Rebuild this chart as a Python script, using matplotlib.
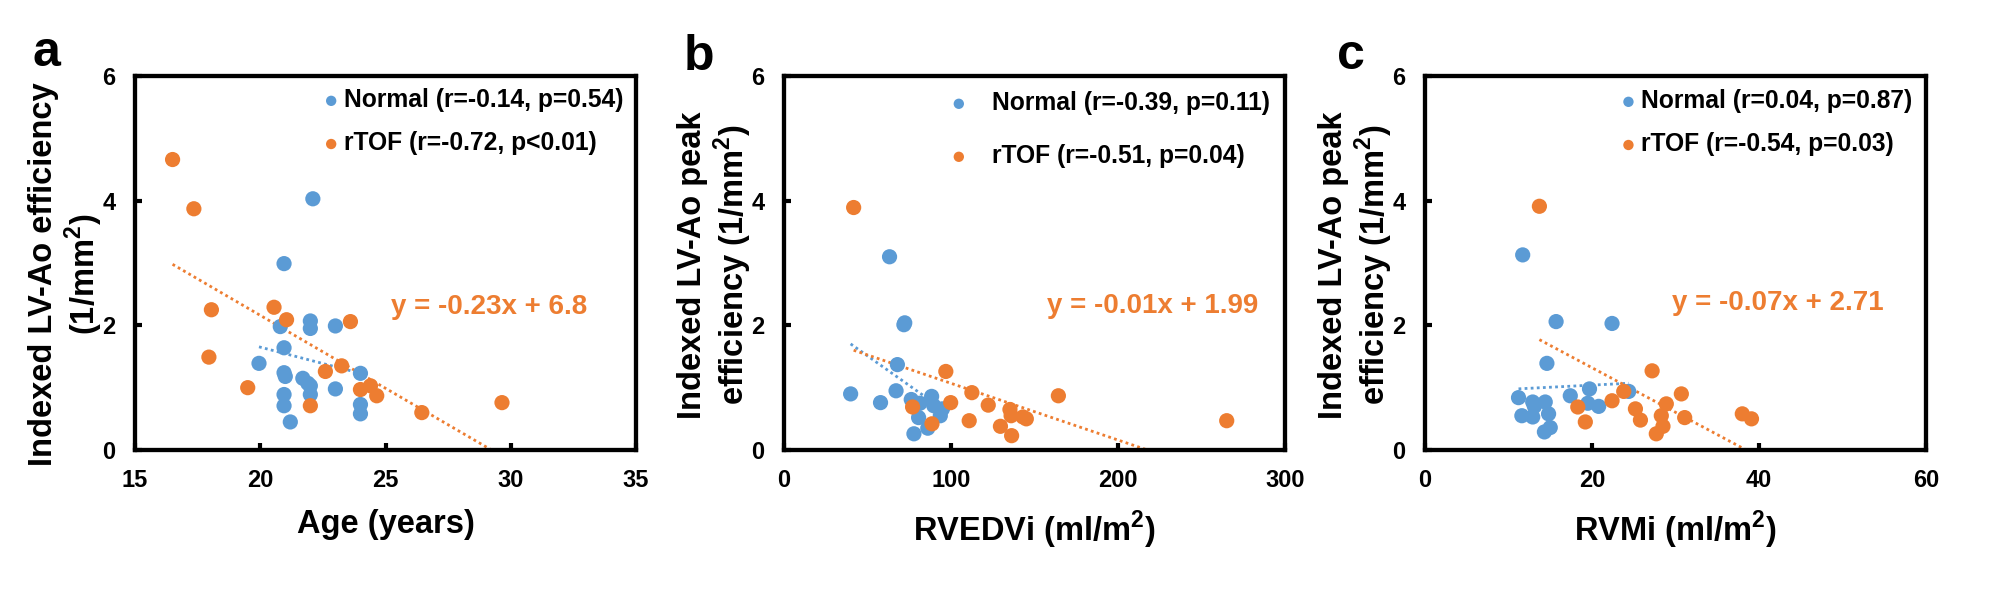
import numpy as np
import matplotlib
matplotlib.use('Agg')
import matplotlib.pyplot as plt

plt.rcParams['font.family'] = ['Liberation Sans', 'DejaVu Sans']
plt.rcParams['font.weight'] = 'bold'
plt.rcParams['mathtext.fontset'] = 'custom'
plt.rcParams['mathtext.rm'] = 'Liberation Sans:bold'
plt.rcParams['mathtext.bf'] = 'Liberation Sans:bold'

BLUE = '#5B9BD5'
ORANGE = '#ED7D31'

# Panel a: age vs indexed LV-Ao efficiency
age_normal = [22.1, 20.95, 20.8, 22.0, 22.0, 23.0, 20.95, 19.95, 20.95, 21.0, 21.7,
              21.9, 22.0, 23.0, 24.0, 20.95, 22.0, 20.95, 24.0, 24.0, 21.2]
eff_a_normal = [4.03, 2.99, 1.98, 2.07, 1.95, 1.99, 1.64, 1.39, 1.24, 1.18, 1.15,
                1.07, 1.03, 0.98, 1.23, 0.89, 0.89, 0.71, 0.73, 0.58, 0.45]
age_rtof = [16.5, 17.35, 18.05, 17.95, 19.5, 20.55, 21.05, 22.0, 22.6, 23.25, 23.6,
            24.0, 24.4, 24.65, 26.45, 29.65]
eff_a_rtof = [4.66, 3.87, 2.25, 1.49, 1.0, 2.29, 2.09, 0.71, 1.26, 1.35, 2.06,
              0.97, 1.03, 0.87, 0.60, 0.76]

# Panel b: RVEDVi vs indexed LV-Ao peak efficiency
rvedvi_normal = [63.2, 71.8, 72.3, 67.9, 39.9, 67.1, 57.8, 76.2, 81.4, 88.4, 89.7,
                 94.9, 93.6, 80.6, 86.1, 77.8]
eff_b_normal = [3.10, 2.01, 2.04, 1.37, 0.90, 0.95, 0.76, 0.81, 0.75, 0.86, 0.71,
                0.66, 0.55, 0.52, 0.35, 0.26]
rvedvi_rtof = [41.7, 96.9, 112.5, 164.3, 99.8, 122.3, 77.0, 135.3, 136.0, 143.1,
               145.1, 110.9, 88.6, 129.6, 136.3, 265.1]
eff_b_rtof = [3.89, 1.26, 0.92, 0.87, 0.76, 0.72, 0.69, 0.65, 0.55, 0.53, 0.50,
              0.47, 0.42, 0.38, 0.23, 0.47]

# Panel c: RVMi vs indexed LV-Ao peak efficiency
rvmi_normal = [11.7, 15.7, 22.4, 14.6, 19.7, 24.4, 17.4, 11.2, 12.9, 14.4, 13.1,
               19.5, 20.8, 11.6, 12.9, 14.8, 15.0, 14.3]
eff_c_normal = [3.13, 2.06, 2.03, 1.39, 0.98, 0.94, 0.87, 0.84, 0.77, 0.77, 0.70,
                0.75, 0.70, 0.55, 0.53, 0.58, 0.36, 0.29]
rvmi_rtof = [13.7, 27.2, 30.7, 23.8, 22.4, 28.9, 18.3, 25.2, 28.3, 31.1, 25.8,
             19.2, 28.5, 27.7, 38.0, 39.1]
eff_c_rtof = [3.91, 1.27, 0.90, 0.94, 0.79, 0.74, 0.69, 0.66, 0.55, 0.52, 0.48,
              0.45, 0.38, 0.26, 0.58, 0.50]

# linear trendlines (slope, intercept)
trend_normal = [(-0.105, 3.75), (-0.019, 2.46), (0.0068, 0.905)]
trend_rtof = [(-0.234, 6.84), (-0.0091, 1.98), (-0.0715, 2.75)]

legend_normal = ['Normal (r=-0.14, p=0.54)', 'Normal (r=-0.39, p=0.11)', 'Normal (r=0.04, p=0.87)']
legend_rtof = ['rTOF (r=-0.72, p<0.01)', 'rTOF (r=-0.51, p=0.04)', 'rTOF (r=-0.54, p=0.03)']
equations = ['y = -0.23x + 6.8', 'y = -0.01x + 1.99', 'y = -0.07x + 2.71']

xlabels = ['Age (years)', r'RVEDVi (ml/m$^{2}$)', r'RVMi (ml/m$^{2}$)']
ylabels = ['Indexed LV-Ao efficiency\n' + r'(1/mm$^{2}$)',
           'Indexed LV-Ao peak\n' + r'efficiency (1/mm$^{2}$)',
           'Indexed LV-Ao peak\n' + r'efficiency (1/mm$^{2}$)']
xlims = [(15, 35), (0, 300), (0, 60)]
xsteps = [5, 100, 20]
panel_tags = ['a', 'b', 'c']

xs_normal = [age_normal, rvedvi_normal, rvmi_normal]
ys_normal = [eff_a_normal, eff_b_normal, eff_c_normal]
xs_rtof = [age_rtof, rvedvi_rtof, rvmi_rtof]
ys_rtof = [eff_a_rtof, eff_b_rtof, eff_c_rtof]

W, H = 2010, 602
fig = plt.figure(figsize=(W / 100, H / 100), dpi=100)

ax_left = [135, 784, 1425]
ax_w, ax_top, ax_bot = 501, 76, 450
tag_pos = [(32, 66), (684, 70), (1337, 69)]
eq_pos = [(0.511, 0.382), (0.524, 0.385), (0.494, 0.393)]
leg_textpad = [0.28, 1.09, 0.28]
leg_spacing = [0.78, 1.18, 0.78]
leg_axpad = [0.5, 0.62, 0.54]

for i in range(3):
    ax = fig.add_axes([ax_left[i] / W, (H - ax_bot) / H, ax_w / W, (ax_bot - ax_top) / H])

    # trendlines under the markers
    for xs, (m, b), col in [(xs_normal[i], trend_normal[i], BLUE), (xs_rtof[i], trend_rtof[i], ORANGE)]:
        xx = np.array([min(xs), max(xs)])
        ax.plot(xx, m * xx + b, color=col, lw=2, linestyle=(0, (1, 1.2)), zorder=1)

    ax.scatter(xs_normal[i], ys_normal[i], s=120, color=BLUE, edgecolors='none',
               label=legend_normal[i], zorder=2)
    ax.scatter(xs_rtof[i], ys_rtof[i], s=120, color=ORANGE, edgecolors='none',
               label=legend_rtof[i], zorder=2)

    ax.set_xlim(*xlims[i])
    ax.set_ylim(0, 6)
    ax.set_xticks(np.arange(xlims[i][0], xlims[i][1] + 1, xsteps[i]))
    ax.set_yticks([0, 2, 4, 6])
    ax.tick_params(direction='in', length=5, width=3, labelsize=17, pad=14)
    for lab in ax.get_xticklabels() + ax.get_yticklabels():
        lab.set_fontweight('bold')
    for sp in ax.spines.values():
        sp.set_linewidth(3.1)

    ax.set_xlabel(xlabels[i], fontsize=23.5, fontweight='bold', labelpad=12)
    ax.set_ylabel(ylabels[i], fontsize=23.5, fontweight='bold', va='center', linespacing=1.1)
    ax.yaxis.set_label_coords(-0.137, 0.47 if i == 0 else 0.495)

    leg = ax.legend(loc='upper right', bbox_to_anchor=(1, 1), frameon=False, fontsize=17.7,
                    markerscale=0.68, handlelength=0.5, handletextpad=leg_textpad[i],
                    labelspacing=leg_spacing[i], borderpad=0, borderaxespad=leg_axpad[i])
    for t in leg.get_texts():
        t.set_fontweight('bold')

    ax.text(eq_pos[i][0], eq_pos[i][1], equations[i], transform=ax.transAxes,
            color=ORANGE, fontsize=20, fontweight='bold', ha='left', va='center')

    fig.text(tag_pos[i][0] / W, 1 - tag_pos[i][1] / H, panel_tags[i], fontsize=36,
             fontweight='bold', ha='left', va='baseline')

fig.savefig('out.png', dpi=100)
